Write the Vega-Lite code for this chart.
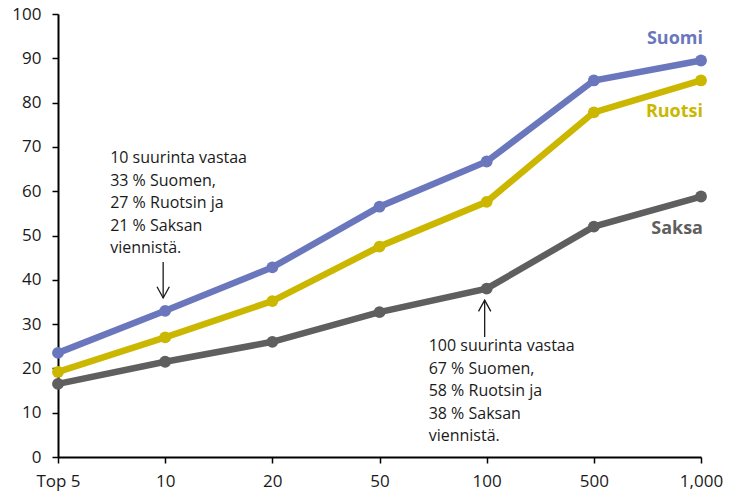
{
  "$schema": "https://vega.github.io/schema/vega-lite/v6.json",
  "autosize": "none",
  "width": 643,
  "height": 443,
  "padding": {"left": 58, "top": 14, "right": 30, "bottom": 39},
  "config": {
    "view": {"stroke": null},
    "font": "Open Sans"
  },
  "datasets": {
    "main": [
      {"size": "Top 5", "country": "Suomi", "value": 23.5},
      {"size": "10", "country": "Suomi", "value": 33},
      {"size": "20", "country": "Suomi", "value": 42.8},
      {"size": "50", "country": "Suomi", "value": 56.5},
      {"size": "100", "country": "Suomi", "value": 66.7},
      {"size": "500", "country": "Suomi", "value": 85},
      {"size": "1,000", "country": "Suomi", "value": 89.5},
      {"size": "Top 5", "country": "Ruotsi", "value": 19.2},
      {"size": "10", "country": "Ruotsi", "value": 27},
      {"size": "20", "country": "Ruotsi", "value": 35.2},
      {"size": "50", "country": "Ruotsi", "value": 47.5},
      {"size": "100", "country": "Ruotsi", "value": 57.6},
      {"size": "500", "country": "Ruotsi", "value": 77.8},
      {"size": "1,000", "country": "Ruotsi", "value": 85},
      {"size": "Top 5", "country": "Saksa", "value": 16.5},
      {"size": "10", "country": "Saksa", "value": 21.5},
      {"size": "20", "country": "Saksa", "value": 26},
      {"size": "50", "country": "Saksa", "value": 32.7},
      {"size": "100", "country": "Saksa", "value": 38},
      {"size": "500", "country": "Saksa", "value": 52},
      {"size": "1,000", "country": "Saksa", "value": 58.8}
    ],
    "labels": [
      {"size": "1,000", "country": "Suomi", "value": 94.4},
      {"size": "1,000", "country": "Ruotsi", "value": 77.9},
      {"size": "1,000", "country": "Saksa", "value": 51.5}
    ],
    "notes": [
      {"size": "10", "value": 69.3, "text": ["10 suurinta vastaa", "33 % Suomen,", "27 % Ruotsin ja", "21 % Saksan", "viennistä."]},
      {"size": "100", "value": 26.8, "text": ["100 suurinta vastaa", "67 % Suomen,", "58 % Ruotsin ja", "38 % Saksan", "viennistä."]}
    ],
    "arrows": [
      {"size": "10", "y1": 44, "y2": 35.9, "dir": "down"},
      {"size": "100", "y1": 35.4, "y2": 27.1, "dir": "up"}
    ]
  },
  "encoding": {
    "x": {"field": "size", "type": "ordinal", "title": null, "scale": {"type": "point", "padding": 0, "domain": ["Top 5", "10", "20", "50", "100", "500", "1,000"]}, "axis": {"labelAngle": 0, "labelPadding": 10, "grid": false, "domainColor": "#000000", "domainWidth": 2, "tickColor": "#000000", "tickWidth": 1.5, "tickSize": 6, "labelFont": "Open Sans", "labelFontSize": 17, "labelColor": "#1a1a1a"}}
  },
  "layer": [
    {
      "data": {"name": "main"},
      "mark": {"type": "line", "strokeWidth": 6.5},
      "encoding": {
        "y": {"field": "value", "type": "quantitative", "title": null, "scale": {"domain": [0, 100], "nice": false}, "axis": {"values": [0,10,20,30,40,50,60,70,80,90,100], "labelPadding": 11, "grid": false, "domainColor": "#000000", "domainWidth": 2, "tickColor": "#000000", "tickWidth": 1.5, "tickSize": 6, "labelFont": "Open Sans", "labelFontSize": 17, "labelColor": "#1a1a1a"}},
        "color": {"field": "country", "type": "nominal", "scale": {"domain": ["Suomi", "Ruotsi", "Saksa"], "range": ["#6b77bd", "#cbb700", "#5f5f5f"]}, "legend": null}
      }
    },
    {
      "data": {"name": "main"},
      "mark": {"type": "point", "filled": true, "opacity": 1, "size": 140},
      "encoding": {
        "y": {"field": "value", "type": "quantitative"},
        "color": {"field": "country", "type": "nominal", "legend": null}
      }
    },
    {
      "data": {"name": "labels"},
      "mark": {"type": "text", "align": "right", "baseline": "middle", "fontWeight": "bold", "fontSize": 18, "dx": 2},
      "encoding": {
        "y": {"field": "value", "type": "quantitative"},
        "text": {"field": "country"},
        "color": {"field": "country", "type": "nominal", "legend": null}
      }
    },
    {
      "data": {"name": "notes"},
      "transform": [{"filter": "datum.size == '10'"}],
      "mark": {"type": "text", "align": "left", "baseline": "top", "fontSize": 16, "lineHeight": 22.5, "color": "#1a1a1a", "dx": -55},
      "encoding": {
        "y": {"field": "value", "type": "quantitative"},
        "text": {"field": "text"}
      }
    },
    {
      "data": {"name": "notes"},
      "transform": [{"filter": "datum.size == '100'"}],
      "mark": {"type": "text", "align": "left", "baseline": "top", "fontSize": 16, "lineHeight": 22.5, "color": "#1a1a1a", "dx": -58},
      "encoding": {
        "y": {"field": "value", "type": "quantitative"},
        "text": {"field": "text"}
      }
    },
    {
      "data": {"name": "arrows"},
      "mark": {"type": "rule", "color": "#1a1a1a", "strokeWidth": 1.3, "xOffset": -2},
      "encoding": {
        "y": {"field": "y1", "type": "quantitative"},
        "y2": {"field": "y2"}
      }
    },
    {
      "data": {"name": "arrows"},
      "transform": [{"filter": "datum.dir == 'down'"}],
      "mark": {"type": "point", "shape": "M-0.55,-1L0,0L0.55,-1", "filled": false, "strokeWidth": 1.3, "color": "#1a1a1a", "size": 500, "opacity": 1, "xOffset": -2},
      "encoding": {
        "y": {"field": "y2", "type": "quantitative"}
      }
    },
    {
      "data": {"name": "arrows"},
      "transform": [{"filter": "datum.dir == 'up'"}],
      "mark": {"type": "point", "shape": "M-0.55,1L0,0L0.55,1", "filled": false, "strokeWidth": 1.3, "color": "#1a1a1a", "size": 500, "opacity": 1, "xOffset": -2},
      "encoding": {
        "y": {"field": "y1", "type": "quantitative"}
      }
    }
  ]
}
